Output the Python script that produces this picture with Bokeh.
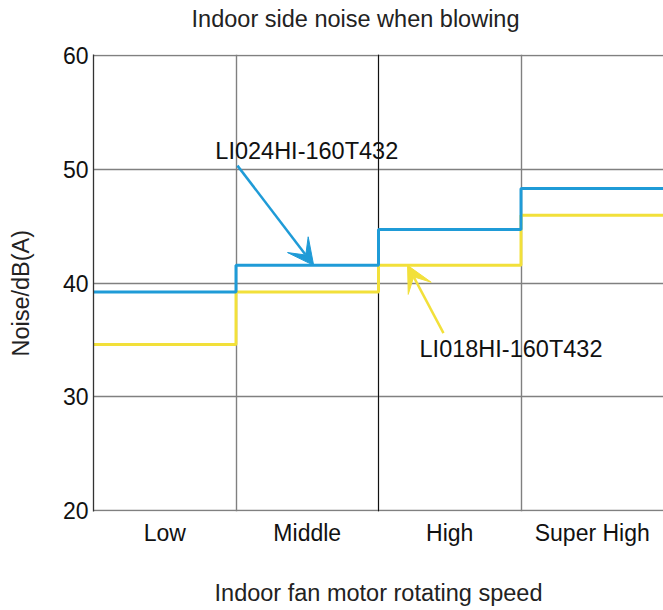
from bokeh.plotting import figure
from bokeh.models import Range1d, FixedTicker, Span, Arrow, VeeHead, Label, LinearAxis
from bokeh.embed import file_html
from bokeh.resources import INLINE

categories = ["Low", "Middle", "High", "Super High"]
blue_values = [39.2, 41.55, 44.7, 48.3]      # LI024HI-160T432
yellow_values = [34.6, 39.2, 41.55, 45.95]   # LI018HI-160T432
y_ticks = [20, 30, 40, 50, 60]
blue_name = "LI024HI-160T432"
yellow_name = "LI018HI-160T432"
title_text = "Indoor side noise when blowing"
y_title = "Noise/dB(A)"
x_title = "Indoor fan motor rotating speed"
# text anchors (data units)
title_x = 1.839
y_title_y = 39.1
blue_label_xy = [0.855, 51.55]
blue_arrow = [1.01, 50.3, 1.545, 41.55]
yellow_label_xy = [2.288, 34.2]
yellow_arrow = [2.456, 35.6, 2.204, 41.55]

BLUE = "#1f9bd7"
YELLOW = "#f2e03a"
FONT = "Liberation Sans"

p = figure(width=663, height=610, x_range=Range1d(0, 4), y_range=Range1d(19.95, 60.05),
           output_backend="svg", toolbar_location=None,
           min_border_left=93, min_border_right=0, min_border_top=54, min_border_bottom=99)
p.outline_line_color = None
p.background_fill_color = "white"
p.border_fill_color = "white"

xax = p.below[0]
yax = p.left[0]

# main axes
yax.ticker = FixedTicker(ticks=y_ticks)
xax.ticker = FixedTicker(ticks=[i + 0.5 for i in range(len(categories))])
xax.major_label_overrides = {i + 0.5: c for i, c in enumerate(categories)}
xax.axis_label = x_title
for ax in (xax, yax):
    ax.major_tick_line_color = None
    ax.minor_tick_line_color = None
    ax.major_tick_out = 0
    ax.minor_tick_out = 0
    ax.major_tick_in = 0
    ax.minor_tick_in = 0
    ax.major_label_text_font = FONT
    ax.major_label_text_font_size = "23px"
    ax.major_label_text_color = "#111111"
    ax.axis_label_text_font = FONT
    ax.axis_label_text_font_size = "23.5px"
    ax.axis_label_text_font_style = "normal"
    ax.axis_label_text_color = "#222222"
xax.axis_line_color = None
yax.axis_line_color = "#333333"
yax.axis_line_width = 1.3
yax.major_label_standoff = 5
xax.major_label_standoff = 8
xax.axis_label_standoff = 31


def text_axis(tick, label, size, color, standoff, orientation="horizontal"):
    return LinearAxis(ticker=FixedTicker(ticks=[tick]), major_label_overrides={tick: label},
                      axis_line_color=None, major_tick_line_color=None, minor_tick_line_color=None,
                      major_tick_out=0, minor_tick_out=0, major_tick_in=0, minor_tick_in=0,
                      major_label_standoff=standoff, major_label_orientation=orientation,
                      major_label_text_font=FONT, major_label_text_font_size=size,
                      major_label_text_color=color)


# title (as a single tick label above the frame)
p.add_layout(text_axis(title_x, title_text, "23.5px", "#222222", 23), "above")
# y title (as a single vertical tick label, outside the tick labels)
p.add_layout(text_axis(y_title_y, y_title, "23.5px", "#222222", 25, "vertical"), "left")

# grid
p.ygrid.ticker = FixedTicker(ticks=y_ticks)
p.ygrid.grid_line_color = "#808080"
p.ygrid.grid_line_width = 1.4
p.xgrid.ticker = FixedTicker(ticks=list(range(1, len(categories))))
p.xgrid.grid_line_color = "#808080"
p.xgrid.grid_line_width = 1.4
p.add_layout(Span(location=2, dimension="height", line_color="#111111", line_width=1, level="underlay"))

edges = list(range(len(categories) + 1))
p.step(edges, yellow_values + [yellow_values[-1]], mode="after", line_color=YELLOW, line_width=3)
p.step(edges, blue_values + [blue_values[-1]], mode="after", line_color=BLUE, line_width=3)

p.add_layout(Arrow(end=VeeHead(size=26, fill_color=BLUE, line_color=BLUE),
                   x_start=blue_arrow[0], y_start=blue_arrow[1], x_end=blue_arrow[2], y_end=blue_arrow[3],
                   line_color=BLUE, line_width=2.5))
p.add_layout(Arrow(end=VeeHead(size=26, fill_color=YELLOW, line_color=YELLOW),
                   x_start=yellow_arrow[0], y_start=yellow_arrow[1], x_end=yellow_arrow[2], y_end=yellow_arrow[3],
                   line_color=YELLOW, line_width=2.5))
p.add_layout(Label(x=blue_label_xy[0], y=blue_label_xy[1], text=blue_name, text_font=FONT,
                   text_font_size="23.5px", text_baseline="alphabetic", text_color="#111111"))
p.add_layout(Label(x=yellow_label_xy[0], y=yellow_label_xy[1], text=yellow_name, text_font=FONT,
                   text_font_size="23.5px", text_baseline="alphabetic", text_color="#111111"))

open("out.html", "w").write(file_html(p, INLINE))
